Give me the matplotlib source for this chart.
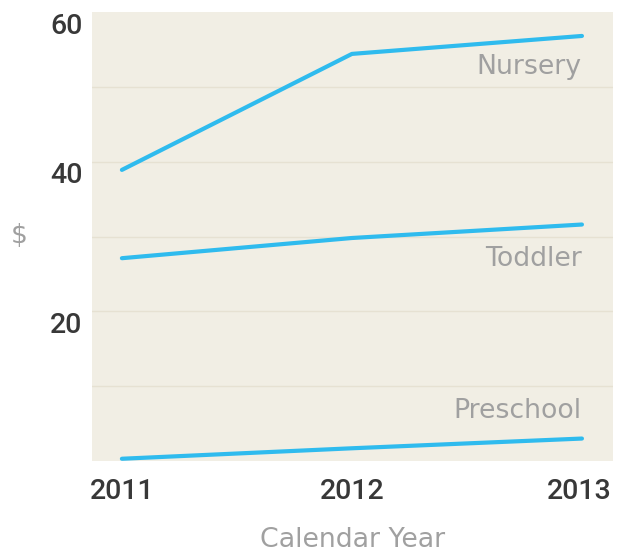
import matplotlib
matplotlib.use("Agg")
import matplotlib.pyplot as plt
import matplotlib.transforms as mtransforms

years = [2011, 2012, 2013]
nursery = [38.9, 54.4, 56.8]
toddler = [27.1, 29.8, 31.6]
preschool = [0.3, 1.7, 3.0]
series_names = ["Nursery", "Toddler", "Preschool"]
label_values = [52.7, 27.0, 6.7]
ytick_vals = [20, 40, 60]
ytick_labels = ["20", "40", "60"]
grid_vals = [10, 20, 30, 40, 50]

plt.rcParams['font.family'] = ['DejaVu Sans']
num_font = ['Roboto', 'DejaVu Sans']

W, H = 618, 553
fig = plt.figure(figsize=(W/100, H/100), dpi=100)
ax = fig.add_axes([92/W, 1-461/H, (613-92)/W, (461-12)/H])
ax.set_facecolor('#f1eee4')
for s in ax.spines.values():
    s.set_visible(False)

ax.set_xlim(2010.87, 2013.135)
ax.set_ylim(0, 60)

for g in grid_vals:
    ax.axhline(g, color='#e6e1d2', lw=1.0, zorder=1)

line_color = '#2fbbee'
for vals in (nursery, toddler, preschool):
    ax.plot(years, vals, color=line_color, lw=3.0, solid_capstyle='round', zorder=3)

for name, v in zip(series_names, label_values):
    ax.text(2013, v, name, ha='right', va='center', fontsize=19.3,
            color='#a0a0a0', zorder=4)

ax.set_yticks(ytick_vals)
ax.set_yticklabels(ytick_labels, fontsize=20.5, color='#383838', fontweight='medium',
                   family=num_font)
ax.tick_params(axis='y', length=0, pad=7)
off = mtransforms.ScaledTranslation(0, -11/100, fig.dpi_scale_trans)
for lab in ax.get_yticklabels():
    lab.set_transform(lab.get_transform() + off)
    lab.set_va('center_baseline')

ax.set_xticks(years)
ax.set_xticklabels([str(y) for y in years], fontsize=20.5, color='#383838', fontweight='medium',
                   family=num_font)
ax.tick_params(axis='x', length=0, pad=12)
xl = ax.get_xticklabels()
xl[-1].set_ha('right')
xl[-1].set_transform(xl[-1].get_transform() + mtransforms.ScaledTranslation(30/100, 0, fig.dpi_scale_trans))

fig.text(19/W, 1-236/H, "$", fontsize=19, color='#a0a0a0', ha='center', va='center')
fig.text(353/W, 1-540/H, "Calendar Year", fontsize=19.3, color='#a0a0a0', ha='center', va='center')

fig.savefig("out.png", dpi=100, facecolor='white')
